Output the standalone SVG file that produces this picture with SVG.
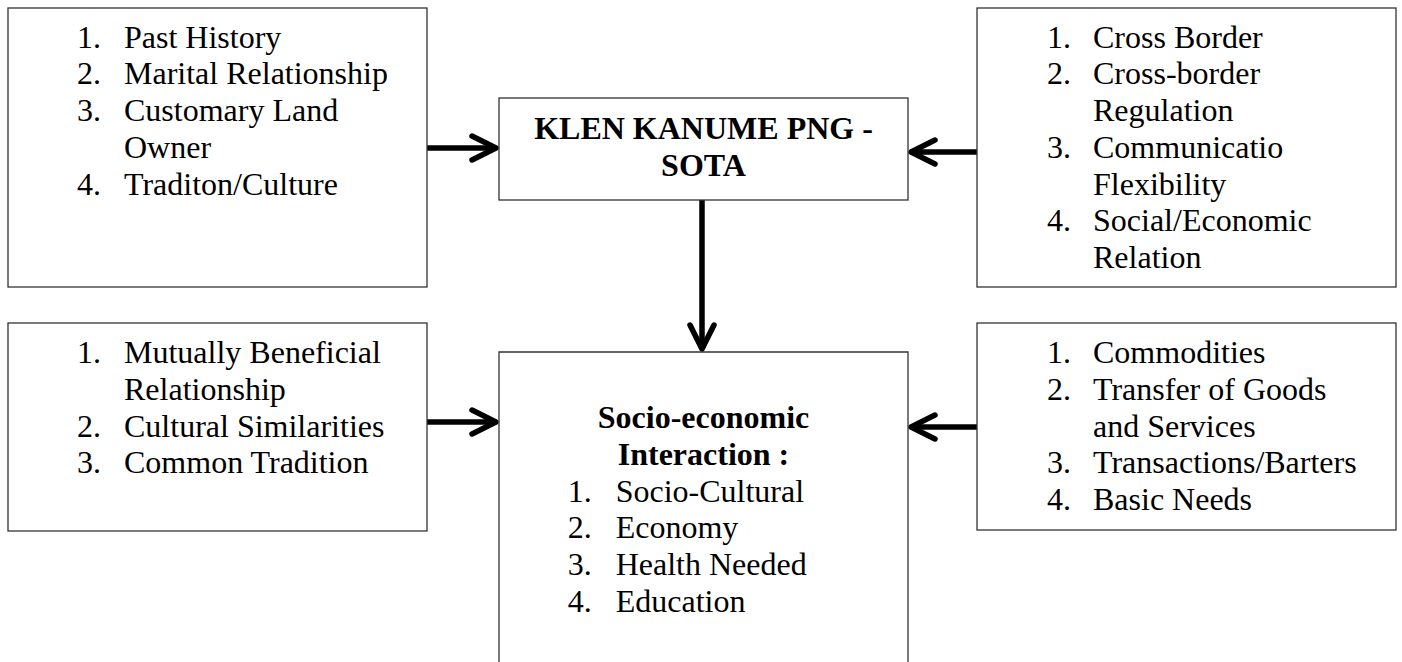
<svg xmlns="http://www.w3.org/2000/svg" width="1402" height="662" viewBox="0 0 1402 662">
<style>
.box{fill:#fff;stroke:#333;stroke-width:1.3}
.t{font-family:"Liberation Serif","Times New Roman",serif;font-size:32px;fill:#000}
.b{font-weight:bold;text-anchor:middle}
.c{fill:none;stroke:#000;stroke-width:5.5}
</style>
<defs>
<marker id="ah" markerUnits="userSpaceOnUse" viewBox="-30 -16 34 32" refX="0" refY="0" markerWidth="34" markerHeight="32" orient="auto" overflow="visible">
<path d="M-24,-12 L0,0 L-24,12" fill="none" stroke="#000" stroke-width="5.5" stroke-linecap="round" stroke-linejoin="round"/>
</marker>
</defs>
<rect width="1402" height="662" fill="#fff"/>
<g id="connectors">
<line class="c" x1="427" y1="148" x2="496" y2="148" marker-end="url(#ah)"/>
<line class="c" x1="977" y1="152" x2="911" y2="152" marker-end="url(#ah)"/>
<line class="c" x1="702" y1="200" x2="702" y2="349" marker-end="url(#ah)"/>
<line class="c" x1="427" y1="422" x2="496" y2="422" marker-end="url(#ah)"/>
<line class="c" x1="977" y1="427" x2="911" y2="427" marker-end="url(#ah)"/>
</g>
<g id="box-history">
<rect class="box" x="8" y="8" width="419" height="279"/>
<text class="t" x="77" y="47.7">1.</text><text class="t" x="124" y="47.7">Past History</text>
<text class="t" x="77" y="84.4">2.</text><text class="t" x="124" y="84.4">Marital Relationship</text>
<text class="t" x="77" y="121.1">3.</text><text class="t" x="124" y="121.1">Customary Land</text>
<text class="t" x="124" y="157.8">Owner</text>
<text class="t" x="77" y="194.5">4.</text><text class="t" x="124" y="194.5">Traditon/Culture</text>
</g>
<g id="box-klen">
<rect class="box" x="499" y="98" width="409" height="102"/>
<text class="t b" x="703.5" y="139.3">KLEN KANUME PNG -</text>
<text class="t b" x="703.5" y="176">SOTA</text>
</g>
<g id="box-crossborder">
<rect class="box" x="977" y="8" width="419" height="279"/>
<text class="t" x="1047" y="47.7">1.</text><text class="t" x="1093" y="47.7">Cross Border</text>
<text class="t" x="1047" y="84.4">2.</text><text class="t" x="1093" y="84.4">Cross-border</text>
<text class="t" x="1093" y="121.1">Regulation</text>
<text class="t" x="1047" y="157.8">3.</text><text class="t" x="1093" y="157.8">Communicatio</text>
<text class="t" x="1093" y="194.5">Flexibility</text>
<text class="t" x="1047" y="231.2">4.</text><text class="t" x="1093" y="231.2">Social/Economic</text>
<text class="t" x="1093" y="267.9">Relation</text>
</g>
<g id="box-mutual">
<rect class="box" x="8" y="323" width="419" height="208"/>
<text class="t" x="77" y="363.3">1.</text><text class="t" x="124" y="363.3">Mutually Beneficial</text>
<text class="t" x="124" y="400">Relationship</text>
<text class="t" x="77" y="436.7">2.</text><text class="t" x="124" y="436.7">Cultural Similarities</text>
<text class="t" x="77" y="473.4">3.</text><text class="t" x="124" y="473.4">Common Tradition</text>
</g>
<g id="box-socio">
<path class="box" d="M499,670 L499,352 L908,352 L908,670"/>
<text class="t b" x="703.5" y="428.3">Socio-economic</text>
<text class="t b" x="703.5" y="465">Interaction :</text>
<text class="t" x="567.7" y="501.7">1.</text><text class="t" x="615.7" y="501.7">Socio-Cultural</text>
<text class="t" x="567.7" y="538.4">2.</text><text class="t" x="615.7" y="538.4">Economy</text>
<text class="t" x="567.7" y="575.1">3.</text><text class="t" x="615.7" y="575.1">Health Needed</text>
<text class="t" x="567.7" y="611.8">4.</text><text class="t" x="615.7" y="611.8">Education</text>
</g>
<g id="box-commodities">
<rect class="box" x="977" y="323" width="419" height="207"/>
<text class="t" x="1047" y="363.3">1.</text><text class="t" x="1093" y="363.3">Commodities</text>
<text class="t" x="1047" y="400">2.</text><text class="t" x="1093" y="400">Transfer of Goods</text>
<text class="t" x="1093" y="436.7">and Services</text>
<text class="t" x="1047" y="473.4">3.</text><text class="t" x="1093" y="473.4">Transactions/Barters</text>
<text class="t" x="1047" y="510.1">4.</text><text class="t" x="1093" y="510.1">Basic Needs</text>
</g>
</svg>
